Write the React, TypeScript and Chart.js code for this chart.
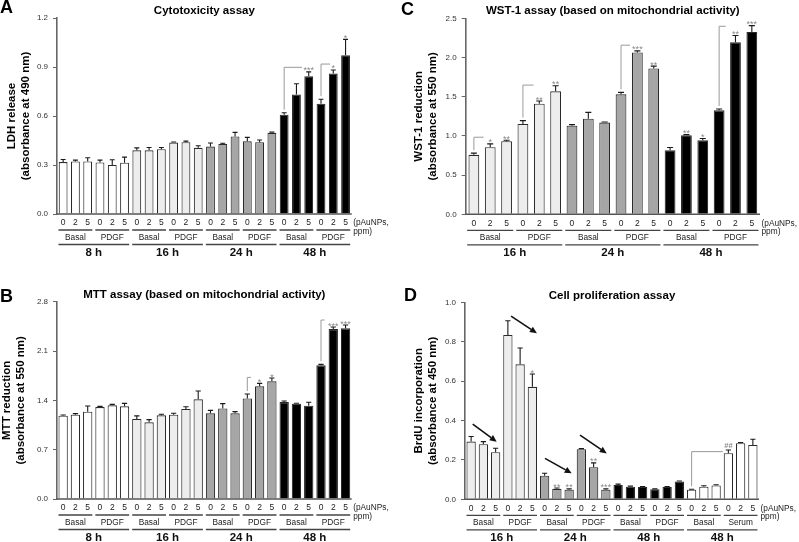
import React, { useEffect, useRef } from 'react';
import { Chart, registerables } from 'chart.js';

Chart.register(...registerables);

const FONT = '"Liberation Sans", Arial, Helvetica, sans-serif';
Chart.defaults.font.family = FONT;

// ---------- shared ----------
const DOSES = ['0', '2', '5'];
const DOSE_UNIT = ['(pAuNPs,', 'ppm)'];

// ---------- Panel A: Cytotoxicity (LDH) ----------
const A_TIMES = ['8 h', '16 h', '24 h', '48 h'];
const A_CONDS = ['Basal', 'PDGF', 'Basal', 'PDGF', 'Basal', 'PDGF', 'Basal', 'PDGF'];
const A_VALUES = [0.318, 0.322, 0.322, 0.316, 0.3, 0.314, 0.39, 0.39, 0.397, 0.437, 0.44, 0.405, 0.413, 0.429, 0.475, 0.445, 0.44, 0.497, 0.608, 0.731, 0.844, 0.675, 0.86, 0.972];
const A_ERRORS = [0.016, 0.008, 0.022, 0.014, 0.032, 0.034, 0.015, 0.017, 0.01, 0.004, 0.006, 0.013, 0.022, 0.004, 0.025, 0.024, 0.013, 0.004, 0.012, 0.066, 0.026, 0.028, 0.022, 0.097];
const A_MARKS = ['', '', '', '', '', '', '', '', '', '', '', '', '', '', '', '', '', '', '', '', '***', '', '*', '*'];
const A_BRACKETS = [{ from: 18, to: 19.45, level: 0.898 }, { from: 21, to: 21.73, level: 0.918 }];
const A_TICKS = [0, 0.3, 0.6, 0.9, 1.2];

// ---------- Panel B: MTT ----------
const B_TIMES = ['8 h', '16 h', '24 h', '48 h'];
const B_CONDS = ['Basal', 'PDGF', 'Basal', 'PDGF', 'Basal', 'PDGF', 'Basal', 'PDGF'];
const B_VALUES = [1.182, 1.197, 1.239, 1.305, 1.329, 1.315, 1.135, 1.088, 1.187, 1.197, 1.277, 1.414, 1.216, 1.286, 1.216, 1.428, 1.599, 1.67, 1.376, 1.353, 1.324, 1.897, 2.412, 2.422];
const B_ERRORS = [0.01, 0.014, 0.081, 0.01, 0.014, 0.042, 0.045, 0.038, 0.015, 0.019, 0.033, 0.118, 0.042, 0.067, 0.024, 0.062, 0.042, 0.047, 0.014, 0.005, 0.048, 0.014, 0.028, 0.047];
const B_MARKS = ['', '', '', '', '', '', '', '', '', '', '', '', '', '', '', '', '*', '*', '', '', '', '', '***', '***'];
const B_BRACKETS = [{ from: 15, to: 15.3, level: 1.726 }, { from: 21, to: 21.3, level: 2.54 }];
const B_TICKS = [0, 0.7, 1.4, 2.1, 2.8];

// ---------- Panel C: WST-1 ----------
const C_TIMES = ['16 h', '24 h', '48 h'];
const C_CONDS = ['Basal', 'PDGF', 'Basal', 'PDGF', 'Basal', 'PDGF'];
const C_VALUES = [0.758, 0.856, 0.932, 1.153, 1.411, 1.568, 1.131, 1.22, 1.17, 1.53, 2.064, 1.86, 0.818, 1.008, 0.945, 1.326, 2.195, 2.326];
const C_ERRORS = [0.022, 0.042, 0.013, 0.042, 0.034, 0.072, 0.013, 0.08, 0.008, 0.025, 0.021, 0.03, 0.034, 0.008, 0.021, 0.017, 0.085, 0.081];
const C_MARKS = ['', '*', '**', '', '**', '**', '', '', '', '', '***', '**', '', '**', '*', '', '**', '***'];
const C_BRACKETS = [{ from: 0, to: 0.6, level: 0.983 }, { from: 3, to: 3.65, level: 1.648 }, { from: 9, to: 9.55, level: 2.157 }, { from: 15, to: 15.4, level: 2.398 }];
const C_TICKS = [0, 0.5, 1.0, 1.5, 2.0, 2.5];

// ---------- Panel D: BrdU ----------
const D_TIMES = ['16 h', '24 h', '48 h', '48 h'];
const D_CONDS = ['Basal', 'PDGF', 'Basal', 'PDGF', 'Basal', 'PDGF', 'Basal', 'Serum'];
const D_VALUES = [0.293, 0.28, 0.239, 0.834, 0.685, 0.571, 0.12, 0.053, 0.049, 0.254, 0.163, 0.049, 0.073, 0.064, 0.063, 0.051, 0.063, 0.09, 0.049, 0.064, 0.07, 0.234, 0.285, 0.276];
const D_ERRORS = [0.026, 0.013, 0.02, 0.072, 0.083, 0.065, 0.012, 0.004, 0.004, 0.003, 0.022, 0.004, 0.004, 0.003, 0.002, 0.002, 0.002, 0.003, 0.002, 0.005, 0.004, 0.016, 0.003, 0.029];
const D_MARKS = ['', '', '', '', '', '*', '', '**', '**', '', '**', '***', '', '', '', '', '', '', '', '', '', '##', '', ''];
const D_BRACKETS = [{ from: 18, to: 20.55, level: 0.242 }];
const D_ARROWS = [
  { x1: 3.26, y1: 0.93, x2: 5.37, y2: 0.843 },
  { x1: 0.13, y1: 0.382, x2: 2.09, y2: 0.292 },
  { x1: 6.03, y1: 0.208, x2: 8.21, y2: 0.132 },
  { x1: 8.89, y1: 0.326, x2: 11.07, y2: 0.233 },
];
const D_TICKS = [0, 0.2, 0.4, 0.6, 0.8, 1.0];

// ---------- styles ----------
const WHITE = '#ffffff';
const LIGHT = '#ededed';
const MID = '#a6a6a6';
const BLACK = '#000000';

type Bracket = { from: number; to: number; level: number };
type Arrow = { x1: number; y1: number; x2: number; y2: number };

interface PanelCfg {
  letter: string;
  title: string;
  yTitle: string[];
  times: string[];
  conds: string[];
  values: number[];
  errors: number[];
  marks: string[];
  brackets: Bracket[];
  arrows: Arrow[];
  ticks: number[];
  fills: string[];
  box: { x: number; y: number; w: number; h: number };
  area: { left: number; right: number; top: number; bottom: number };
  yTitlePad: number;
  barPct: number;
  letterPos: { x: number; y: number };
  titleY: number;
}

const PANELS: PanelCfg[] = [
  {
    letter: 'A', title: 'Cytotoxicity assay', yTitle: ['LDH release', '(absorbance at 490 nm)'],
    times: A_TIMES, conds: A_CONDS, values: A_VALUES, errors: A_ERRORS, marks: A_MARKS,
    brackets: A_BRACKETS, arrows: [], ticks: A_TICKS, fills: [WHITE, LIGHT, MID, BLACK],
    box: { x: 0, y: 0, w: 400, h: 271 }, area: { left: 57, right: 351.7, top: 18, bottom: 214 },
    yTitlePad: 5, barPct: 0.72, letterPos: { x: 0, y: 13.3 }, titleY: 11,
  },
  {
    letter: 'B', title: 'MTT assay (based on mitochondrial activity)', yTitle: ['MTT reduction', '(absorbance at 550 nm)'],
    times: B_TIMES, conds: B_CONDS, values: B_VALUES, errors: B_ERRORS, marks: B_MARKS,
    brackets: B_BRACKETS, arrows: [], ticks: B_TICKS, fills: [WHITE, LIGHT, MID, BLACK],
    box: { x: 0, y: 271, w: 400, h: 271 }, area: { left: 57, right: 351.7, top: 30.7, bottom: 228 },
    yTitlePad: 0, barPct: 0.76, letterPos: { x: 0, y: 30.7 }, titleY: 24,
  },
  {
    letter: 'C', title: 'WST-1 assay (based on mitochondrial activity)', yTitle: ['WST-1 reduction', '(absorbance at 550 nm)'],
    times: C_TIMES, conds: C_CONDS, values: C_VALUES, errors: C_ERRORS, marks: C_MARKS,
    brackets: C_BRACKETS, arrows: [], ticks: C_TICKS, fills: [LIGHT, MID, BLACK],
    box: { x: 400, y: 0, w: 399, h: 271 }, area: { left: 65.7, right: 360, top: 18.3, bottom: 214.3 },
    yTitlePad: 12, barPct: 0.66, letterPos: { x: 1, y: 15 }, titleY: 11,
  },
  {
    letter: 'D', title: 'Cell proliferation assay', yTitle: ['BrdU incorporation', '(absorbance at 450 nm)'],
    times: D_TIMES, conds: D_CONDS, values: D_VALUES, errors: D_ERRORS, marks: D_MARKS,
    brackets: D_BRACKETS, arrows: D_ARROWS, ticks: D_TICKS, fills: [LIGHT, MID, BLACK, WHITE],
    box: { x: 400, y: 271, w: 399, h: 271 }, area: { left: 65, right: 359, top: 31.3, bottom: 228.3 },
    yTitlePad: 12, barPct: 0.76, letterPos: { x: 4, y: 29.5 }, titleY: 24.5,
  },
];

function drawArrow(ctx: CanvasRenderingContext2D, x1: number, y1: number, x2: number, y2: number) {
  const ang = Math.atan2(y2 - y1, x2 - x1);
  const hl = 7;
  const hw = 3.2;
  const bx = x2 - hl * Math.cos(ang);
  const by = y2 - hl * Math.sin(ang);
  ctx.beginPath();
  ctx.moveTo(x1, y1);
  ctx.lineTo(bx, by);
  ctx.stroke();
  ctx.beginPath();
  ctx.moveTo(x2, y2);
  ctx.lineTo(bx + hw * Math.sin(ang), by - hw * Math.cos(ang));
  ctx.lineTo(bx - hw * Math.sin(ang), by + hw * Math.cos(ang));
  ctx.closePath();
  ctx.fill();
}

function makeOverlay(cfg: PanelCfg) {
  return {
    id: 'overlay' + cfg.letter,
    afterDraw(chart: any) {
      const ctx: CanvasRenderingContext2D = chart.ctx;
      const xs = chart.scales.x;
      const ys = chart.scales.y;
      const ca = chart.chartArea;
      const n = cfg.values.length;
      const slot = (ca.right - ca.left) / n;
      const y0 = ys.getPixelForValue(0);
      const meta = chart.getDatasetMeta(0);
      ctx.save();

      // baseline
      ctx.strokeStyle = '#555';
      ctx.lineWidth = 1.6;
      ctx.beginPath();
      ctx.moveTo(ca.left - 0.5, y0);
      ctx.lineTo(ca.right, y0);
      ctx.stroke();

      // error bars
      ctx.strokeStyle = '#1a1a1a';
      ctx.lineWidth = 1.1;
      const errTops: number[] = [];
      for (let i = 0; i < n; i++) {
        const el = meta.data[i];
        const cx = el.x;
        const top = ys.getPixelForValue(cfg.values[i]);
        const et = ys.getPixelForValue(cfg.values[i] + cfg.errors[i]);
        errTops.push(et);
        const half = Math.max(2.2, el.width * 0.28);
        ctx.beginPath();
        ctx.moveTo(cx, top);
        ctx.lineTo(cx, et);
        ctx.moveTo(cx - half, et);
        ctx.lineTo(cx + half, et);
        ctx.stroke();
      }

      // significance marks
      ctx.fillStyle = '#8a8a8a';
      ctx.textAlign = 'center';
      ctx.textBaseline = 'alphabetic';
      for (let i = 0; i < n; i++) {
        const m = cfg.marks[i];
        if (!m) continue;
        const cx = xs.getPixelForValue(i);
        if (m.startsWith('#')) {
          ctx.font = `bold 7.5px ${FONT}`;
          ctx.fillText(m, cx, errTops[i] - 2);
        } else {
          ctx.font = `9px ${FONT}`;
          ctx.fillText(m, cx, errTops[i] + 1.5);
        }
      }

      // brackets
      ctx.strokeStyle = '#9a9a9a';
      ctx.lineWidth = 1;
      for (const b of cfg.brackets) {
        const x1 = xs.getPixelForValue(b.from);
        const x2 = xs.getPixelForValue(b.to);
        const yl = ys.getPixelForValue(b.level);
        ctx.beginPath();
        ctx.moveTo(x1, errTops[b.from] - 3);
        ctx.lineTo(x1, yl);
        ctx.lineTo(x2, yl);
        ctx.stroke();
      }

      // arrows
      ctx.strokeStyle = '#111';
      ctx.fillStyle = '#111';
      ctx.lineWidth = 1.6;
      for (const a of cfg.arrows) {
        drawArrow(ctx, xs.getPixelForValue(a.x1), ys.getPixelForValue(a.y1), xs.getPixelForValue(a.x2), ys.getPixelForValue(a.y2));
      }

      // x labels
      ctx.fillStyle = '#222';
      ctx.textAlign = 'center';
      ctx.textBaseline = 'middle';
      ctx.font = `8.5px ${FONT}`;
      for (let i = 0; i < n; i++) {
        ctx.fillText(DOSES[i % DOSES.length], xs.getPixelForValue(i), y0 + 9);
      }
      ctx.strokeStyle = '#444';
      ctx.lineWidth = 1.3;
      const per = DOSES.length;
      cfg.conds.forEach((c, k) => {
        const l = xs.getPixelForValue(k * per) - slot / 2;
        const r = l + per * slot;
        ctx.beginPath();
        ctx.moveTo(l + 1.5, y0 + 16);
        ctx.lineTo(r - 1.5, y0 + 16);
        ctx.stroke();
        ctx.font = `8.3px ${FONT}`;
        ctx.fillText(c, (l + r) / 2, y0 + 23.5);
      });
      const perT = per * (cfg.conds.length / cfg.times.length);
      cfg.times.forEach((t, k) => {
        const l = xs.getPixelForValue(k * perT) - slot / 2;
        const r = l + perT * slot;
        ctx.beginPath();
        ctx.moveTo(l + 1.5, y0 + 30.5);
        ctx.lineTo(r - 1.5, y0 + 30.5);
        ctx.stroke();
        ctx.font = `bold 11.5px ${FONT}`;
        ctx.fillStyle = '#111';
        ctx.fillText(t, (l + r) / 2, y0 + 39);
        ctx.fillStyle = '#222';
      });
      ctx.textAlign = 'left';
      ctx.font = `8.3px ${FONT}`;
      ctx.fillText(DOSE_UNIT[0], ca.right + 1.5, y0 + 9);
      ctx.fillText(DOSE_UNIT[1], ca.right + 1.5, y0 + 17.5);

      // title and letter
      ctx.fillStyle = '#000';
      ctx.textAlign = 'center';
      ctx.textBaseline = 'middle';
      ctx.font = `bold 11.5px ${FONT}`;
      ctx.fillText(cfg.title, (ca.left + ca.right) / 2, cfg.titleY);
      ctx.textAlign = 'left';
      ctx.textBaseline = 'alphabetic';
      ctx.font = `bold 18px ${FONT}`;
      ctx.fillText(cfg.letter, cfg.letterPos.x, cfg.letterPos.y);

      ctx.restore();
    },
  };
}

function Panel({ cfg }: { cfg: PanelCfg }) {
  const ref = useRef<HTMLCanvasElement | null>(null);
  useEffect(() => {
    const canvas = ref.current;
    if (!canvas) return;
    const labels: string[] = [];
    const colors: string[] = [];
    const perT = DOSES.length * (cfg.conds.length / cfg.times.length);
    for (let i = 0; i < cfg.values.length; i++) {
      const t = Math.floor(i / perT);
      const c = Math.floor(i / DOSES.length);
      labels.push(`${cfg.times[t]} ${cfg.conds[c]} ${DOSES[i % DOSES.length]}`);
      colors.push(cfg.fills[t]);
    }
    const tickVals = cfg.ticks;
    const chart = new Chart(canvas, {
      type: 'bar',
      data: {
        labels,
        datasets: [
          {
            data: cfg.values,
            backgroundColor: colors,
            borderColor: '#2a2a2a',
            borderWidth: 1.1,
            barPercentage: cfg.barPct,
            categoryPercentage: 1,
          },
        ],
      },
      options: {
        responsive: false,
        animation: false,
        devicePixelRatio: 1,
        events: [],
        layout: {
          padding: {
            left: 0,
            right: cfg.box.w - cfg.area.right,
            top: cfg.area.top,
            bottom: cfg.box.h - cfg.area.bottom,
          },
        },
        plugins: {
          legend: { display: false },
          tooltip: { enabled: false },
          title: { display: false },
        },
        scales: {
          x: { display: false, offset: true },
          y: {
            min: tickVals[0],
            max: tickVals[tickVals.length - 1],
            afterBuildTicks: (s: any) => {
              s.ticks = tickVals.map((v) => ({ value: v }));
            },
            afterFit: (s: any) => {
              s.width = cfg.area.left;
            },
            ticks: {
              font: { size: 8, family: FONT },
              color: '#333',
              padding: 5,
              callback: (v: any) => Number(v).toFixed(1),
            },
            grid: { drawOnChartArea: false, drawTicks: true, tickLength: 4, color: '#666', lineWidth: 1 },
            border: { display: true, color: '#666', width: 1.6 },
            title: {
              display: true,
              text: cfg.yTitle,
              color: '#000',
              font: { size: 11.5, weight: 'bold', family: FONT, lineHeight: 1.2 },
              padding: { top: cfg.yTitlePad, bottom: 0 },
            },
          },
        },
      } as any,
      plugins: [makeOverlay(cfg)],
    });
    return () => chart.destroy();
  }, [cfg]);
  return (
    <canvas
      ref={ref}
      width={cfg.box.w}
      height={cfg.box.h}
      style={{ position: 'absolute', left: cfg.box.x, top: cfg.box.y, width: cfg.box.w, height: cfg.box.h }}
    />
  );
}

export default function App() {
  return (
    <div style={{ position: 'absolute', left: 0, top: 0, width: 799, height: 542, background: '#fff', overflow: 'hidden' }}>
      {PANELS.map((p) => (
        <Panel key={p.letter} cfg={p} />
      ))}
    </div>
  );
}
